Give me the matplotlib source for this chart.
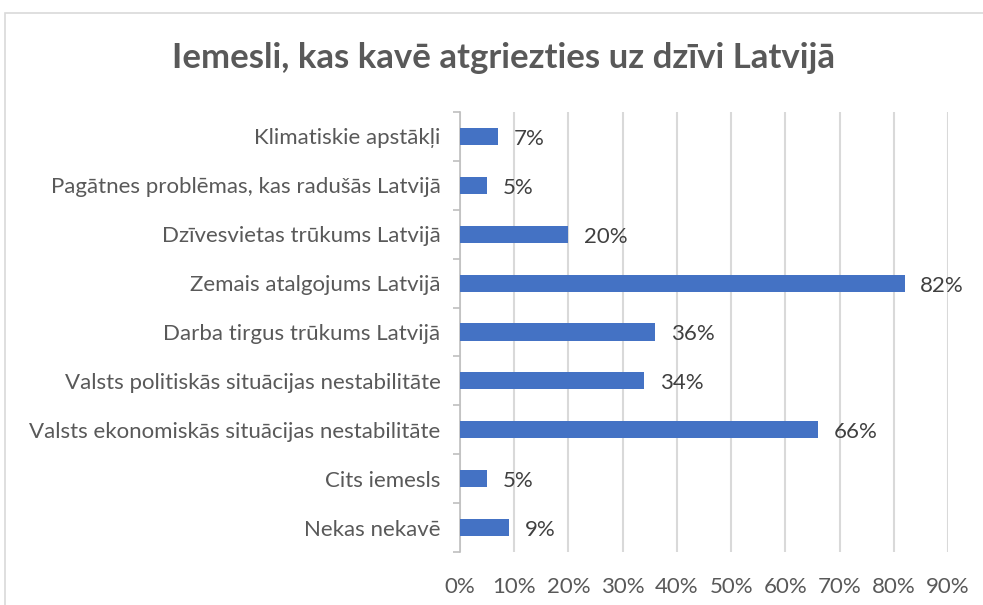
import matplotlib
matplotlib.use('Agg')
import matplotlib.pyplot as plt
from matplotlib.patches import Rectangle
from matplotlib.ticker import PercentFormatter

plt.rcParams['font.family'] = ['Lato', 'DejaVu Sans']

title = 'Iemesli, kas kavē atgriezties uz dzīvi Latvijā'
categories = ['Klimatiskie apstākļi',
              'Pagātnes problēmas, kas radušās Latvijā',
              'Dzīvesvietas trūkums Latvijā',
              'Zemais atalgojums Latvijā',
              'Darba tirgus trūkums Latvijā',
              'Valsts politiskās situācijas nestabilitāte',
              'Valsts ekonomiskās situācijas nestabilitāte',
              'Cits iemesls',
              'Nekas nekavē']
values = [0.07, 0.05, 0.20, 0.82, 0.36, 0.34, 0.66, 0.05, 0.09]
xticks = [0, 0.1, 0.2, 0.3, 0.4, 0.5, 0.6, 0.7, 0.8, 0.9]

fig = plt.figure(figsize=(9.83, 6.05), dpi=100)
ax = fig.add_axes([460/983, 1 - 552/605, 488/983, 440/605])

# chart border (cut off at right/bottom like the screenshot)
fig.patches.append(Rectangle((5/983, -0.1), 1.2, 1 - 13/605 + 0.1,
                             transform=fig.transFigure, fill=False,
                             edgecolor='#D9D9D9', linewidth=1.2))

pos = list(range(len(categories)))
ax.barh(pos, values, height=0.35, color='#4472C4', zorder=3)
for p, v in zip(pos, values):
    ax.text(v + 0.029, p + 0.05, f'{round(v*100)}%', va='center', ha='left',
            fontsize=16, color='#404040')

ax.set_ylim(len(categories) - 0.5, -0.5)
ax.set_xlim(0, 0.9)
ax.set_xticks(xticks)
ax.xaxis.set_major_formatter(PercentFormatter(1.0, decimals=0))
ax.set_yticks(pos)
ax.set_yticklabels(categories)
ax.set_yticks([p + 0.5 for p in [-1] + pos], minor=True)

ax.grid(axis='x', color='#D9D9D9', linewidth=1.5, zorder=0)
for s in ['top', 'right', 'bottom']:
    ax.spines[s].set_visible(False)
ax.spines['left'].set_color('#BFBFBF')
ax.spines['left'].set_linewidth(1.2)

ax.tick_params(axis='y', which='major', length=0, pad=14, labelsize=16, labelcolor='#595959')
ax.tick_params(axis='y', which='minor', length=5, color='#BFBFBF', width=1.2)
ax.tick_params(axis='x', length=0, pad=18, labelsize=16, labelcolor='#595959')

fig.text(503/983, 1 - 58/605, title, ha='center', va='center',
         fontsize=25, fontweight='bold', color='#595959')

fig.savefig('out.png', dpi=100, facecolor='white')
